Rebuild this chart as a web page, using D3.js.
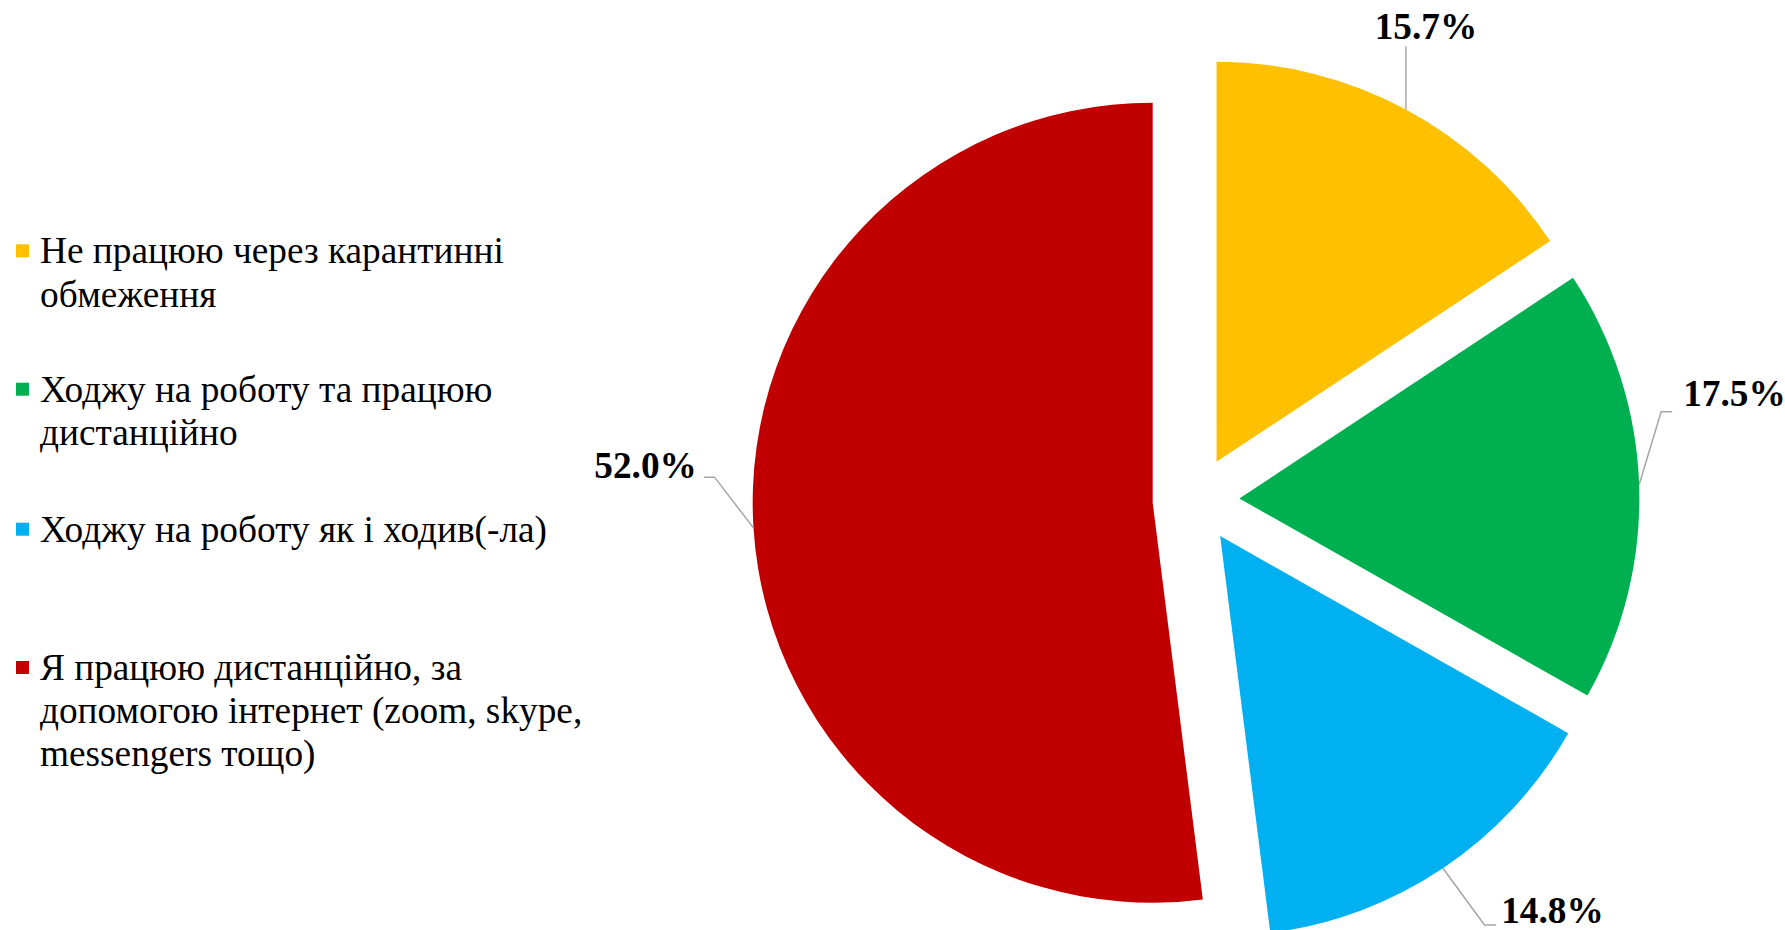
<!DOCTYPE html>
<html>
<head>
<meta charset="utf-8">
<script src="https://cdn.jsdelivr.net/npm/d3@7"></script>
<style>
  html, body { margin: 0; padding: 0; background: #fff; }
  svg { display: block; }
  text { font-family: "Liberation Serif", "Times New Roman", serif; }
</style>
</head>
<body>
<svg id="chart" width="1785" height="930"></svg>
<script>
// ---- data ----
const categories = [
  ["Не працюю через карантинні", "обмеження"],
  ["Ходжу на роботу та працюю", "дистанційно"],
  ["Ходжу на роботу як і ходив(-ла)"],
  ["Я працюю дистанційно, за", "допомогою інтернет (zoom, skype,", "messengers тощо)"]
];
const values = [15.7, 17.5, 14.8, 52.0];
const labels = ["15.7%", "17.5%", "14.8%", "52.0%"];
const colors = ["#FFC000", "#00B050", "#00B0F0", "#C00000"];

// ---- layout (not data) ----
const cx = 1196, cy = 500, R = 400, explode = 43.4;
// leader path points and label anchor relative to leader start on the slice edge
const leaderLayout = [
  { pts: [[0, -63]], text: [20, -70], anchor: "middle" },
  { pts: [[22, -73], [33, -73]], text: [44, -79], anchor: "start" },
  { pts: [[41.6, 56.7], [53.3, 56.7]], text: [58.3, 54.5], anchor: "start" },
  { pts: [[-39, -50.7], [-49.6, -50.7]], text: [-56.6, -50], anchor: "end" }
];
const legendBaselines = [263.3, 401.7, 541.7, 680];
const legendLineH = 43.2;

const svg = d3.select("#chart");

const pie = d3.pie().sort(null).value(d => d)(values);
const arc = d3.arc().innerRadius(0).outerRadius(R);

const slices = svg.append("g").attr("transform", `translate(${cx},${cy})`);
pie.forEach((p, i) => {
  const mid = (p.startAngle + p.endAngle) / 2;
  const ox = Math.sin(mid) * explode, oy = -Math.cos(mid) * explode;
  slices.append("path")
    .attr("d", arc(p))
    .attr("transform", `translate(${ox},${oy})`)
    .attr("fill", colors[i]);

  // leader line start: outer edge at mid-angle of exploded slice
  const sx = cx + ox + Math.sin(mid) * R;
  const sy = cy + oy - Math.cos(mid) * R;
  const L = leaderLayout[i];
  const pts = [[sx, sy]].concat(L.pts.map(q => [sx + q[0], sy + q[1]]));
  svg.append("path")
    .attr("d", d3.line()(pts))
    .attr("fill", "none")
    .attr("stroke", "#A6A6A6")
    .attr("stroke-width", 1.5);
  svg.append("text")
    .attr("x", sx + L.text[0])
    .attr("y", sy + L.text[1])
    .attr("text-anchor", L.anchor)
    .attr("font-size", 37.3)
    .attr("font-weight", "bold")
    .attr("fill", "#000")
    .text(labels[i]);
});

// ---- legend ----
const legend = svg.append("g");
categories.forEach((lines, i) => {
  const b = legendBaselines[i];
  legend.append("rect")
    .attr("x", 16).attr("y", b - 19)
    .attr("width", 13).attr("height", 13)
    .attr("fill", colors[i]);
  const t = legend.append("text")
    .attr("x", 40).attr("y", b)
    .attr("font-size", 37.3)
    .attr("fill", "#000");
  lines.forEach((ln, j) => {
    t.append("tspan").attr("x", 40).attr("y", b + j * legendLineH).text(ln);
  });
});
</script>
</body>
</html>
